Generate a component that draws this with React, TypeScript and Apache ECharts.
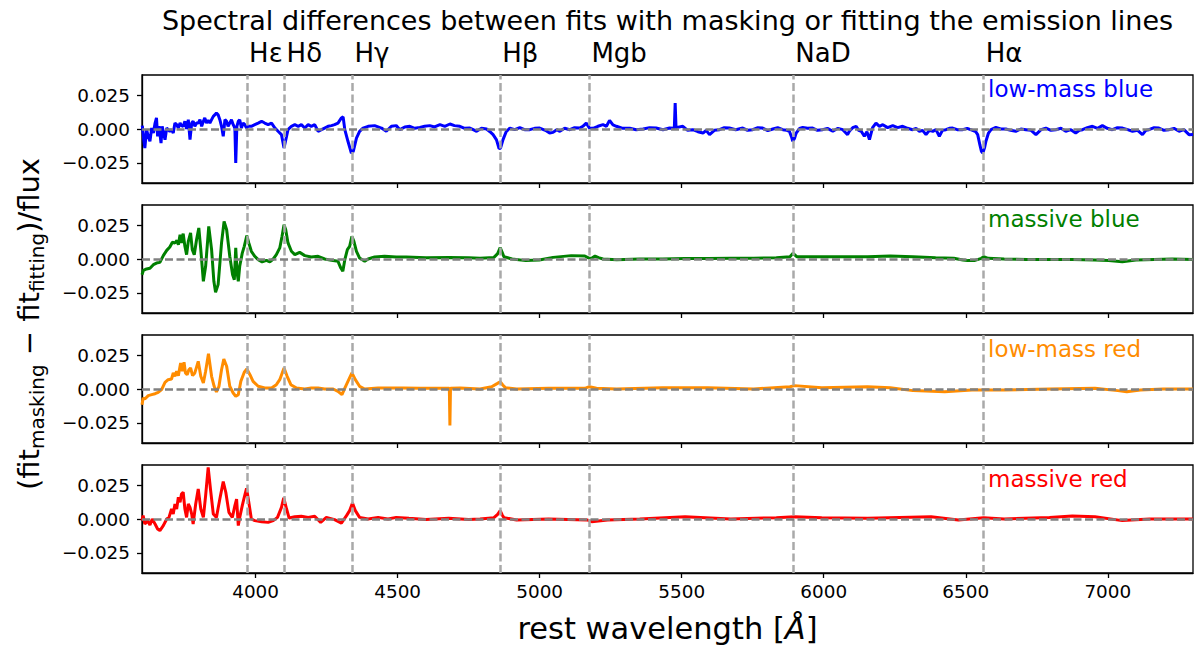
import React, { useEffect, useRef } from "react";
import * as echarts from "echarts";

const FONT = "DejaVu Sans";

const titleText = "Spectral differences between fits with masking or fitting the emission lines";
const xTicks = [4000, 4500, 5000, 5500, 6000, 6500, 7000];
const yTicks = [-0.025, 0, 0.025];
const lineNames = ["Hε", "Hδ", "Hγ", "Hβ", "Mgb", "NaD", "Hα"];
const lineWaves = [3970, 4102, 4341, 4861, 5175, 5893, 6563];
const panelNames = ["low-mass blue", "massive blue", "low-mass red", "massive red"];

const lowMassBlue: [number, number][] = [
  [3601, 0.0025], [3606, -0.0079], [3610, -0.0141], [3616, -0.0005], [3622, -0.0054], [3628, -0.0091],
  [3634, 0.0007], [3640, -0.003], [3646, 0.0044], [3651, 0.0082], [3655, -0.0054], [3660, 0.002],
  [3667, -0.0104], [3671, 0.002], [3676, -0.003], [3681, -0.0079], [3687, 0.0007], [3692, -0.0005],
  [3698, -0.0017], [3704, -0.0005], [3710, -0.003], [3716, 0.0044], [3722, 0.0032], [3728, 0.0007],
  [3734, 0.0044], [3739, 0.0025], [3745, 0.002], [3751, 0.0057], [3757, 0], [3763, 0.0069],
  [3769, -0.0079], [3775, 0.0044], [3780, 0.0057], [3786, 0.002], [3792, 0.0044], [3798, 0.0044],
  [3804, 0.0069], [3810, 0.002], [3816, 0.0057], [3821, 0.0082], [3827, 0.0044], [3833, 0.0064],
  [3839, 0.0044], [3845, 0.0069], [3851, 0.0094], [3857, 0.0106], [3862, 0.0119], [3868, 0.0106],
  [3874, 0.0069], [3880, 0.002], [3886, -0.0054], [3892, 0.0069], [3898, 0.0057], [3903, 0.002],
  [3909, 0.0044], [3915, 0.0069], [3921, 0.0032], [3927, 0.0007], [3930, -0.0252], [3934, 0.002],
  [3939, 0.0057], [3944, 0.0069], [3950, 0.0007], [3956, 0.0044], [3962, 0.0032], [3968, 0.0007],
  [3974, 0.002], [3985, 0.002], [3997, 0.0032], [4009, 0.0044], [4021, 0.0057], [4032, 0.0044],
  [4044, 0.0032], [4056, 0.0044], [4068, 0.0007], [4079, -0.0017], [4091, -0.0042], [4100, -0.0141],
  [4109, -0.0054], [4114, -0.0005], [4126, 0.002], [4138, 0.0032], [4150, 0.002], [4161, 0.0032],
  [4173, 0.0007], [4185, 0.0032], [4196, 0.002], [4208, 0.0032], [4220, -0.0017], [4232, -0.0005],
  [4243, 0.0007], [4255, 0.002], [4267, 0.0025], [4278, 0.0032], [4290, 0.0044], [4302, 0.0082],
  [4308, 0.009], [4314, -0.0005], [4325, -0.0091], [4337, -0.0178], [4344, -0.0165], [4355, -0.0067],
  [4366, -0.0017], [4378, 0.0007], [4396, 0.002], [4419, 0.0025], [4443, 0.0007], [4460, -0.0017],
  [4478, 0.002], [4495, 0.0025],
  [4508, -0.0005], [4525, 0.0015], [4543, 0.002], [4560, 0.0005], [4578, 0.0012], [4595, 0.002],
  [4613, 0.0025], [4630, 0.0015], [4649, 0.0032], [4666, 0.002], [4684, 0.0037], [4700, 0.0025],
  [4719, 0.002], [4736, 0.0005], [4754, 0.0007], [4766, -0.0005], [4778, -0.0017], [4795, 0.0005],
  [4813, 0], [4825, -0.002], [4836, -0.0042], [4848, -0.008], [4857, -0.0145], [4862, -0.0143],
  [4871, -0.0079], [4882, -0.002], [4895, 0.0007], [4912, -0.0005], [4930, 0.001], [4947, -0.0005],
  [4965, -0.0005], [4982, 0.0005], [5000, 0.0007], [5020, -0.001], [5035, -0.003], [5047, -0.0025],
  [5060, -0.0005], [5071, -0.0017], [5088, 0.0005], [5106, -0.0005], [5123, 0.001], [5141, 0.0007],
  [5152, 0.002], [5164, 0.0044], [5176, 0.0005], [5188, 0.0005], [5205, 0.002], [5223, 0.0032],
  [5235, 0.002], [5246, 0.0064], [5258, 0.003], [5270, 0.002], [5293, 0.0005], [5317, 0.0005],
  [5340, -0.0005], [5364, 0], [5387, 0.001], [5410, 0.0007], [5434, -0.0005], [5457, 0.0007],
  [5474, 0.0005], [5477, 0.0193], [5480, 0.001], [5504, 0.002], [5521, -0.001], [5539, -0.0005],
  [5557, -0.002], [5575, -0.003], [5586, -0.001], [5598, -0.0042], [5615, -0.001], [5633, -0.0005],
  [5650, 0.001], [5668, 0.0007], [5690, -0.0005], [5715, 0.0007], [5732, -0.001], [5750, -0.0005],
  [5768, 0.001], [5785, 0.0007], [5803, -0.0012], [5821, 0], [5838, 0.001], [5856, -0.0005],
  [5870, -0.001], [5879, -0.0017], [5887, -0.006], [5891, -0.0091], [5897, -0.007], [5903, -0.003],
  [5915, 0.0005], [5926, 0.0012], [5943, 0.0005], [5961, 0.0007], [5978, -0.001], [5996, -0.0005],
  [6013, 0.0005], [6032, -0.0017], [6050, 0.0005], [6067, -0.0005], [6084, -0.0042], [6090, -0.0017],
  [6102, 0.001], [6114, 0.002], [6123, -0.001], [6132, -0.0017], [6143, -0.0054], [6152, -0.002],
  [6161, -0.0079], [6172, 0.001], [6184, 0.0044], [6196, 0.002], [6208, 0.0032], [6225, 0.001],
  [6243, 0.0025], [6260, 0.001], [6278, 0.002], [6295, 0.0005], [6313, -0.0005], [6325, 0.0005],
  [6337, -0.0017], [6348, -0.001], [6360, -0.0042], [6372, -0.001], [6384, -0.0017], [6395, -0.0005],
  [6407, -0.0054], [6418, -0.001], [6430, -0.0005], [6442, 0.0005], [6454, 0.0007], [6470, -0.0005],
  [6489, -0.0005], [6505, 0.0005], [6524, -0.001], [6535, -0.002], [6542, -0.0042], [6550, -0.012],
  [6555, -0.0165], [6560, -0.0178], [6566, -0.014], [6571, -0.0091], [6580, -0.003], [6589, -0.0005],
  [6606, 0.0012], [6623, 0], [6641, 0], [6658, -0.001], [6676, -0.0017], [6694, 0],
  [6712, -0.0005], [6730, -0.001], [6747, -0.0042], [6765, -0.0005], [6782, 0.0007], [6800, -0.001],
  [6817, -0.0005], [6835, 0.0005], [6852, -0.0017], [6870, -0.0005], [6887, -0.003], [6900, -0.001],
  [6911, -0.0005], [6928, 0.001], [6946, 0.002], [6964, 0.0005], [6981, 0.0025], [6998, 0.0005],
  [7016, -0.0005], [7034, 0.001], [7052, 0.0007], [7070, -0.0005], [7087, -0.0017], [7105, -0.001],
  [7122, -0.0042], [7134, -0.001], [7145, -0.0005], [7163, 0.001], [7180, 0.0007], [7198, -0.001],
  [7216, -0.0005], [7233, 0.0005], [7251, -0.0017], [7268, -0.0005], [7286, -0.0042], [7300, -0.004],
];

const massiveBlue: [number, number][] = [
  [3600, -0.0116], [3605, -0.0084], [3616, -0.0074], [3628, -0.0069], [3640, -0.0042], [3651, -0.003],
  [3663, -0.0025], [3675, 0.0025], [3687, 0.0064], [3698, 0.0089], [3707, 0.0124], [3716, 0.0119],
  [3723, 0.0138], [3728, 0.0106], [3734, 0.018], [3739, 0.0119], [3745, 0.0188], [3751, 0.0094],
  [3757, 0.0032], [3763, 0.0131], [3771, 0.0193], [3777, 0.0069], [3784, 0.0032], [3792, 0.0143],
  [3800, 0.023], [3807, 0.0069], [3816, -0.0165], [3824, -0.0054], [3835, 0.0242], [3845, 0.0069],
  [3853, -0.0165], [3859, -0.0247], [3868, -0.019], [3880, 0.0119], [3889, 0.0279], [3898, 0.0217],
  [3909, 0.002], [3919, -0.0116], [3925, -0.0153], [3930, 0.0082], [3935, -0.0104], [3939, -0.0165],
  [3944, -0.0054], [3953, 0.0044], [3960, 0.0094], [3969, 0.0173], [3976, 0.0119], [3985, 0.0057],
  [3997, 0.002], [4009, -0.0005], [4023, -0.0022], [4038, -0.001], [4050, -0.0022], [4062, 0],
  [4073, 0.0032], [4085, 0.0082], [4093, 0.0168], [4100, 0.0254], [4106, 0.0217], [4114, 0.0119],
  [4126, 0.0057], [4138, 0.0032], [4155, 0.0049], [4173, 0.0025], [4196, 0.0015], [4220, 0.002],
  [4243, 0], [4267, -0.001], [4290, -0.0017], [4300, -0.0067], [4307, -0.0091], [4314, -0.0005],
  [4323, 0.0069], [4331, 0.0094], [4339, 0.0168], [4346, 0.0131], [4355, 0.0057], [4366, 0.0007],
  [4384, -0.0017], [4396, 0], [4419, 0.0015], [4454, 0.002], [4495, 0.0015],
  [4530, 0.0015], [4600, 0.001], [4680, 0.0012], [4750, 0.001], [4790, 0.0005], [4839, 0.0012],
  [4852, 0.004], [4861, 0.0085], [4868, 0.005], [4874, 0.0017], [4903, 0], [4951, -0.0012],
  [4999, -0.0007], [5047, 0.0012], [5111, 0.0025], [5159, 0.0022], [5175, 0.0005], [5183, 0.0005],
  [5195, 0.0022], [5207, 0.001], [5223, 0], [5271, -0.0005], [5352, 0], [5432, 0],
  [5512, 0.0003], [5592, 0.0003], [5673, 0.0005], [5753, 0.0005], [5833, 0.001], [5881, 0.0017],
  [5892, 0.0042], [5905, 0.0017], [5961, 0.0017], [6073, 0.0017], [6154, 0.0017], [6234, 0.0022],
  [6314, 0.0017], [6394, 0.001], [6458, 0.0005], [6490, -0.0008], [6506, -0.0012], [6530, -0.0012],
  [6555, 0.0005], [6563, 0.0017], [6579, 0.0005], [6635, 0], [6715, -0.0003], [6795, -0.0003],
  [6875, -0.0003], [6955, -0.0007], [7003, -0.0012], [7051, -0.002], [7099, -0.0007], [7163, -0.0003],
  [7227, 0], [7300, -0.0003],
];

const lowMassRed: [number, number][] = [
  [3600, -0.0116], [3604, -0.0067], [3610, -0.0074], [3622, -0.0049], [3634, -0.0042], [3646, -0.0035],
  [3657, -0.0025], [3669, -0.0005], [3681, 0.0049], [3692, 0.0069], [3704, 0.0074], [3710, 0.0119],
  [3716, 0.0094], [3722, 0.0131], [3728, 0.0099], [3736, 0.0193], [3742, 0.0131], [3748, 0.0198],
  [3753, 0.0119], [3759, 0.0106], [3765, 0.0143], [3771, 0.0156], [3778, 0.0099], [3786, 0.0119],
  [3798, 0.0205], [3807, 0.0094], [3816, 0.0044], [3824, 0.0131], [3834, 0.0262], [3845, 0.0094],
  [3854, 0.002], [3862, -0.0022], [3871, 0.002], [3880, 0.0143], [3888, 0.0222], [3898, 0.0168],
  [3909, 0.002], [3921, -0.003], [3930, -0.0054], [3939, -0.0042], [3948, 0.0057], [3960, 0.0124],
  [3969, 0.0148], [3980, 0.0106], [3991, 0.0057], [4009, 0.002], [4032, 0.0007], [4056, 0.0007],
  [4073, 0.0032], [4085, 0.0069], [4100, 0.0156], [4111, 0.0094], [4124, 0.0032], [4144, 0.0007],
  [4173, 0], [4196, 0.0007], [4220, 0.0007], [4243, 0], [4273, 0], [4290, -0.0017],
  [4304, -0.0042], [4314, 0.0007], [4325, 0.0057], [4339, 0.0119], [4351, 0.0069], [4366, 0.002],
  [4384, 0], [4431, 0.0007], [4478, 0.0007],
  [4520, 0.0007], [4580, 0.0005], [4640, 0.0005], [4682, 0.0005], [4684, -0.0271], [4686, 0.0005],
  [4720, 0.0007], [4790, 0], [4831, 0.0017], [4850, 0.004], [4861, 0.0054], [4870, 0.003],
  [4879, 0.001], [4919, 0], [5031, 0.0005], [5159, 0.0005], [5175, 0.0017], [5200, 0.0005],
  [5271, 0], [5432, 0.001], [5592, 0.001], [5753, 0], [5881, 0.0017], [5897, 0.0025],
  [5993, 0.001], [6154, 0.0017], [6234, 0.001], [6314, -0.0012], [6426, -0.002], [6522, -0.0007],
  [6635, -0.0007], [6795, 0], [6955, 0.0005], [7035, -0.0012], [7067, -0.002], [7115, -0.0007],
  [7195, 0], [7300, 0],
];

const massiveRed: [number, number][] = [
  [3600, -0.0012], [3604, 0.0025], [3610, -0.0037], [3620, -0.0012], [3628, -0.0044], [3636, 0],
  [3646, -0.0037], [3655, -0.0074], [3663, -0.0086], [3675, -0.0049], [3687, 0], [3695, 0.0012],
  [3704, 0.0074], [3710, 0.0037], [3716, 0.0111], [3722, 0.0074], [3728, 0.0161], [3734, 0.0124],
  [3739, 0.0185], [3745, 0.0198], [3751, 0.0074], [3757, 0.0012], [3763, 0.0111], [3769, 0.0086],
  [3775, 0.0037], [3780, -0.0037], [3789, 0.0111], [3798, 0.0222], [3807, 0.0074], [3816, 0.0012],
  [3824, 0.0173], [3833, 0.0383], [3841, 0.0222], [3851, 0.0037], [3862, 0.0012], [3874, 0.0148],
  [3886, 0.0277], [3895, 0.0198], [3906, 0.0049], [3918, 0.0012], [3927, 0.0099], [3933, 0.0148],
  [3939, -0.0049], [3944, 0.0012], [3953, 0.0099], [3960, 0.0161], [3968, 0.0227], [3976, 0.0124],
  [3985, 0], [3997, -0.0012], [4021, -0.002], [4044, -0.0025], [4062, -0.0012], [4077, 0.0012],
  [4091, 0.0086], [4099, 0.0156], [4109, 0.0074], [4118, 0.0007], [4138, 0.0017], [4161, 0.002],
  [4185, 0.0012], [4208, 0.002], [4229, -0.0025], [4249, 0.0012], [4278, -0.0005], [4302, -0.003],
  [4320, 0.0025], [4331, 0.0062], [4341, 0.0119], [4351, 0.0062], [4366, 0.0012], [4396, 0],
  [4431, 0.0012], [4466, 0], [4495, 0.0012],
  [4540, 0.0005], [4600, -0.0003], [4680, 0.0005], [4750, -0.0003], [4790, 0], [4839, 0.001],
  [4852, 0.0035], [4861, 0.0062], [4868, 0.003], [4874, 0.001], [4919, -0.0007], [5031, 0],
  [5167, -0.0007], [5183, -0.002], [5239, -0.0007], [5352, 0], [5512, 0.0017], [5673, 0],
  [5833, 0.001], [5897, 0.0017], [5993, 0.001], [6154, 0.0005], [6378, 0.0017], [6474, -0.0007],
  [6563, 0.001], [6635, 0], [6795, 0.0012], [6875, 0.0022], [6955, 0.0017], [7051, -0.0012],
  [7147, 0], [7300, 0],
];

const panelData = [lowMassBlue, massiveBlue, lowMassRed, massiveRed];
const panelColors = ["#0000ff", "#008000", "#ff8c00", "#ff0000"];

const GRID_LEFT = 142;
const GRID_WIDTH = 1051;
const GRID_TOP0 = 75;
const GRID_STEP = 130;
const GRID_H = 108;
const TICK_FONT = 18.4;

function fmtY(v: number) {
  const s = Math.abs(v).toFixed(3);
  return v < 0 ? "\u2212" + s : s;
}

export default function App() {
  const ref = useRef<HTMLDivElement>(null);
  useEffect(() => {
    if (!ref.current) return;
    const chart = echarts.init(ref.current, null, { renderer: "svg" });
    const grids: any[] = [];
    const xAxes: any[] = [];
    const yAxes: any[] = [];
    const series: any[] = [];
    for (let i = 0; i < 4; i++) {
      grids.push({
        left: GRID_LEFT,
        width: GRID_WIDTH,
        top: GRID_TOP0 + i * GRID_STEP,
        height: GRID_H,
        show: true,
        borderColor: "#000",
        borderWidth: 1.3,
        backgroundColor: "transparent",
      });
      xAxes.push({
        type: "value",
        gridIndex: i,
        min: 3600,
        max: 7300,
        axisLine: { show: true, onZero: false, lineStyle: { color: "#000", width: 1.3 } },
        axisTick: { show: true, customValues: xTicks, length: 5, lineStyle: { color: "#000", width: 1.3 } },
        axisLabel: {
          show: i === 3,
          customValues: xTicks,
          fontSize: TICK_FONT,
          fontFamily: FONT,
          color: "#000",
          margin: 9,
          formatter: (v: number) => String(v),
        },
        splitLine: { show: false },
      });
      yAxes.push({
        type: "value",
        gridIndex: i,
        min: -0.04,
        max: 0.04,
        axisLine: { show: true, lineStyle: { color: "#000", width: 1.3 } },
        axisTick: { show: true, customValues: yTicks, length: 5, lineStyle: { color: "#000", width: 1.3 } },
        axisLabel: {
          customValues: yTicks,
          fontSize: TICK_FONT,
          fontFamily: FONT,
          color: "#000",
          margin: 12,
          formatter: (v: number) => fmtY(v),
        },
        splitLine: { show: false },
      });
      series.push({
        type: "line",
        xAxisIndex: i,
        yAxisIndex: i,
        data: [],
        z: 1,
        silent: true,
        markLine: {
          silent: true,
          symbol: ["none", "none"],
          label: { show: false },
          lineStyle: { color: "#a9a9a9", width: 2.5, type: [8, 3.5] },
          data: lineWaves.map((w) => ({ xAxis: w })),
        },
      });
      series.push({
        type: "line",
        name: panelNames[i],
        xAxisIndex: i,
        yAxisIndex: i,
        data: panelData[i],
        showSymbol: false,
        symbol: "none",
        z: 2,
        lineStyle: { color: panelColors[i], width: 3 },
        itemStyle: { color: panelColors[i] },
      });
      series.push({
        type: "line",
        xAxisIndex: i,
        yAxisIndex: i,
        data: [],
        z: 3,
        silent: true,
        markLine: {
          silent: true,
          symbol: ["none", "none"],
          label: { show: false },
          lineStyle: { color: "#808080", width: 2.5, type: [8, 3.5] },
          data: [{ yAxis: 0 }],
        },
      });
    }
    chart.setOption({
      animation: false,
      backgroundColor: "#fff",
      grid: grids,
      xAxis: xAxes,
      yAxis: yAxes,
      series,
    });

    const graphics: any[] = [];
    graphics.push({
      type: "text",
      x: GRID_LEFT + GRID_WIDTH / 2,
      y: 20,
      style: {
        text: titleText,
        fontFamily: FONT,
        fontSize: 27,
        fill: "#000",
        align: "center",
        verticalAlign: "middle",
      },
    });
    lineNames.forEach((name, k) => {
      const px = chart.convertToPixel({ gridIndex: 0 } as any, [lineWaves[k], 0]) as number[];
      graphics.push({
        type: "text",
        x: px[0] + 2,
        y: 53,
        style: {
          text: name,
          fontFamily: FONT,
          fontSize: 26,
          fill: "#000",
          align: "left",
          verticalAlign: "middle",
        },
      });
    });
    panelNames.forEach((name, i) => {
      graphics.push({
        type: "text",
        x: 988,
        y: GRID_TOP0 + i * GRID_STEP + 14,
        style: {
          text: name,
          fontFamily: FONT,
          fontSize: 23,
          fill: panelColors[i],
          align: "left",
          verticalAlign: "middle",
        },
      });
    });
    graphics.push({
      type: "text",
      x: GRID_LEFT + GRID_WIDTH / 2,
      y: 628,
      style: {
        text: "{a|rest wavelength [}{i|Å}{a|]}",
        align: "center",
        verticalAlign: "middle",
        rich: {
          a: { fontFamily: FONT, fontSize: 30.5, fill: "#000", lineHeight: 36 },
          i: { fontFamily: FONT, fontSize: 30.5, fontStyle: "italic", fill: "#000", lineHeight: 36 },
        },
      },
    });
    graphics.push({
      type: "text",
      x: 29,
      y: GRID_TOP0 + (3 * GRID_STEP + GRID_H) / 2,
      rotation: Math.PI / 2,
      style: {
        text: "{a|(fit}{s|masking}{a| \u2212 fit}{s|fitting}{a|)/flux}",
        align: "center",
        verticalAlign: "middle",
        rich: {
          a: { fontFamily: FONT, fontSize: 29, fill: "#000", lineHeight: 36, verticalAlign: "middle" },
          s: { fontFamily: FONT, fontSize: 20, fill: "#000", lineHeight: 22, verticalAlign: "bottom" },
        },
      },
    });
    chart.setOption({ graphic: graphics });

    return () => {
      chart.dispose();
    };
  }, []);
  return (
    <div
      ref={ref}
      style={{ position: "fixed", left: 0, top: 0, width: 1194, height: 647, background: "#fff" }}
    />
  );
}
